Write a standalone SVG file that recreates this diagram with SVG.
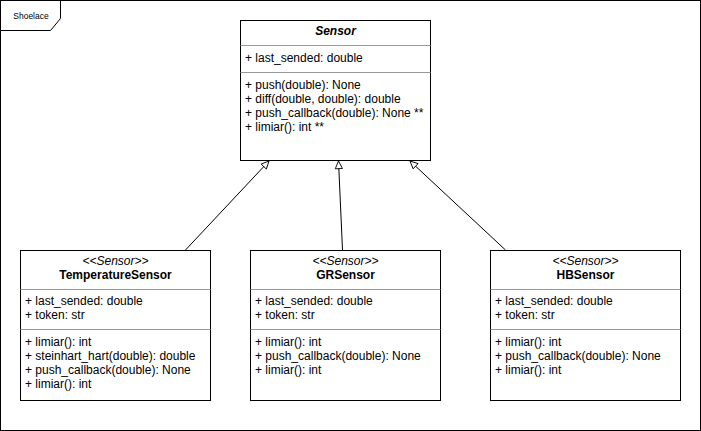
<svg xmlns="http://www.w3.org/2000/svg" width="701" height="431" viewBox="0 0 701 431">
<style>
.box{fill:#fff;stroke:#000;stroke-width:1}
.div{stroke:#999;stroke-width:1}
.t{font-family:"Liberation Sans",Arial,sans-serif;font-size:12px;fill:#000}
.n{font-weight:bold;text-anchor:middle}
.s{font-style:italic;text-anchor:middle}
.c{stroke:#000;stroke-width:1;fill:none;marker-end:url(#inh)}
</style>
<defs>
<marker id="inh" viewBox="0 0 10 10" refX="9.5" refY="5" markerWidth="9" markerHeight="9" markerUnits="userSpaceOnUse" orient="auto">
<path d="M1,1 L9.5,5 L1,9 Z" fill="#fff" stroke="#000" stroke-width="1"/>
</marker>
</defs>
<rect x="0.5" y="0.5" width="700" height="430" fill="#fff" stroke="#000"/>
<g id="frame-label">
<path d="M0.5,0.5 H60.5 V18.5 L50.5,30.5 H0.5 Z" fill="#fff" stroke="#000"/>
<text x="31" y="19" class="t" style="font-size:8.5px;text-anchor:middle">Shoelace</text>
</g>
<g id="connectors">
<line class="c" x1="185.5" y1="250" x2="269" y2="161"/>
<line class="c" x1="342.5" y1="250" x2="338.5" y2="161"/>
<line class="c" x1="505.5" y1="250" x2="410" y2="161"/>
</g>
<g id="Sensor">
<rect class="box" x="240.5" y="20.5" width="190" height="140"/>
<line class="div" x1="240.5" y1="45.5" x2="430.5" y2="45.5"/>
<line class="div" x1="240.5" y1="72.5" x2="430.5" y2="72.5"/>
<text class="t n" x="335.5" y="35" font-style="italic">Sensor</text>
<text class="t" x="245" y="62">+ last_sended: double</text>
<text class="t" x="245" y="89">+ push(double): None</text>
<text class="t" x="245" y="103">+ diff(double, double): double</text>
<text class="t" x="245" y="117">+ push_callback(double): None **</text>
<text class="t" x="245" y="131">+ limiar(): int **</text>
</g>
<g id="TemperatureSensor">
<rect class="box" x="20.5" y="250.5" width="190" height="150"/>
<line class="div" x1="20.5" y1="289.5" x2="210.5" y2="289.5"/>
<line class="div" x1="20.5" y1="329.5" x2="210.5" y2="329.5"/>
<text class="t s" x="115.5" y="265">&lt;&lt;Sensor&gt;&gt;</text>
<text class="t n" x="115.5" y="279">TemperatureSensor</text>
<text class="t" x="25" y="305">+ last_sended: double</text>
<text class="t" x="25" y="319">+ token: str</text>
<text class="t" x="25" y="346">+ limiar(): int</text>
<text class="t" x="25" y="360">+ steinhart_hart(double): double</text>
<text class="t" x="25" y="374">+ push_callback(double): None</text>
<text class="t" x="25" y="388">+ limiar(): int</text>
</g>
<g id="GRSensor">
<rect class="box" x="250.5" y="250.5" width="190" height="150"/>
<line class="div" x1="250.5" y1="289.5" x2="440.5" y2="289.5"/>
<line class="div" x1="250.5" y1="329.5" x2="440.5" y2="329.5"/>
<text class="t s" x="345.5" y="265">&lt;&lt;Sensor&gt;&gt;</text>
<text class="t n" x="345.5" y="279">GRSensor</text>
<text class="t" x="255" y="305">+ last_sended: double</text>
<text class="t" x="255" y="319">+ token: str</text>
<text class="t" x="255" y="346">+ limiar(): int</text>
<text class="t" x="255" y="360">+ push_callback(double): None</text>
<text class="t" x="255" y="374">+ limiar(): int</text>
</g>
<g id="HBSensor">
<rect class="box" x="490.5" y="250.5" width="190" height="150"/>
<line class="div" x1="490.5" y1="289.5" x2="680.5" y2="289.5"/>
<line class="div" x1="490.5" y1="329.5" x2="680.5" y2="329.5"/>
<text class="t s" x="585.5" y="265">&lt;&lt;Sensor&gt;&gt;</text>
<text class="t n" x="585.5" y="279">HBSensor</text>
<text class="t" x="495" y="305">+ last_sended: double</text>
<text class="t" x="495" y="319">+ token: str</text>
<text class="t" x="495" y="346">+ limiar(): int</text>
<text class="t" x="495" y="360">+ push_callback(double): None</text>
<text class="t" x="495" y="374">+ limiar(): int</text>
</g>
</svg>
